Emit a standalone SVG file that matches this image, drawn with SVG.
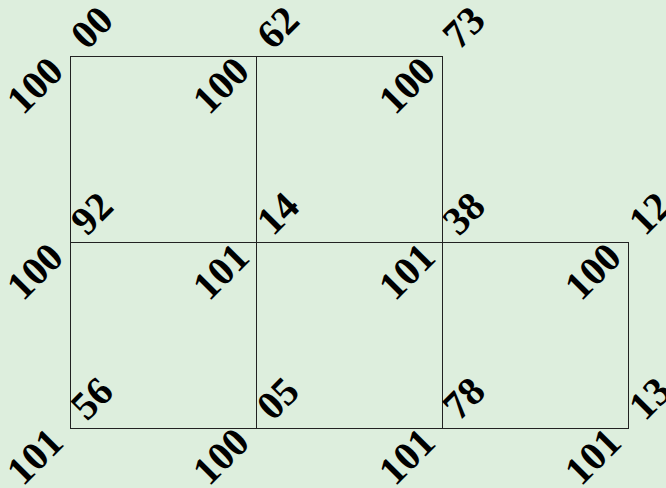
<svg xmlns="http://www.w3.org/2000/svg" width="666" height="488" viewBox="0 0 666 488">
<style>
.bg{fill:#ddeedd}
.cell{fill:none;stroke:#222;stroke-width:1}
.lb{font-family:"Liberation Serif","Times New Roman",serif;font-weight:bold;font-size:40px;fill:#000}
.s{text-anchor:start}
.e{text-anchor:end}
</style>
<rect class="bg" x="0" y="0" width="666" height="488"/>
<g id="connectors"></g>
<g id="cell-r1c1"><rect class="cell" x="70.5" y="56.5" width="186" height="186"/></g>
<g id="cell-r1c2"><rect class="cell" x="256.5" y="56.5" width="186" height="186"/></g>
<g id="cell-r2c1"><rect class="cell" x="70.5" y="242.5" width="186" height="186"/></g>
<g id="cell-r2c2"><rect class="cell" x="256.5" y="242.5" width="186" height="186"/></g>
<g id="cell-r2c3"><rect class="cell" x="442.5" y="242.5" width="186" height="186"/></g>
<g id="labels-upper">
<text class="lb s" transform="translate(87,51) rotate(-45)">00</text>
<text class="lb s" transform="translate(273,51) rotate(-45)">62</text>
<text class="lb s" transform="translate(459,51) rotate(-45)">73</text>
<text class="lb s" transform="translate(87,237) rotate(-45)">92</text>
<text class="lb s" transform="translate(273,237) rotate(-45)">14</text>
<text class="lb s" transform="translate(459,237) rotate(-45)">38</text>
<text class="lb s" transform="translate(645,237) rotate(-45)">12</text>
<text class="lb s" transform="translate(87,422) rotate(-45)">56</text>
<text class="lb s" transform="translate(273,422) rotate(-45)">05</text>
<text class="lb s" transform="translate(459,422) rotate(-45)">78</text>
<text class="lb s" transform="translate(645,422) rotate(-45)">13</text>
</g>
<g id="labels-lower">
<text class="lb e" transform="translate(65.5,73.5) rotate(-45)">100</text>
<text class="lb e" transform="translate(251.5,73.5) rotate(-45)">100</text>
<text class="lb e" transform="translate(437.5,73.5) rotate(-45)">100</text>
<text class="lb e" transform="translate(65.5,259.5) rotate(-45)">100</text>
<text class="lb e" transform="translate(251.5,259.5) rotate(-45)">101</text>
<text class="lb e" transform="translate(437.5,259.5) rotate(-45)">101</text>
<text class="lb e" transform="translate(623.5,259.5) rotate(-45)">100</text>
<text class="lb e" transform="translate(65.5,444.5) rotate(-45)">101</text>
<text class="lb e" transform="translate(251.5,444.5) rotate(-45)">100</text>
<text class="lb e" transform="translate(437.5,444.5) rotate(-45)">101</text>
<text class="lb e" transform="translate(623.5,444.5) rotate(-45)">101</text>
</g>
</svg>
